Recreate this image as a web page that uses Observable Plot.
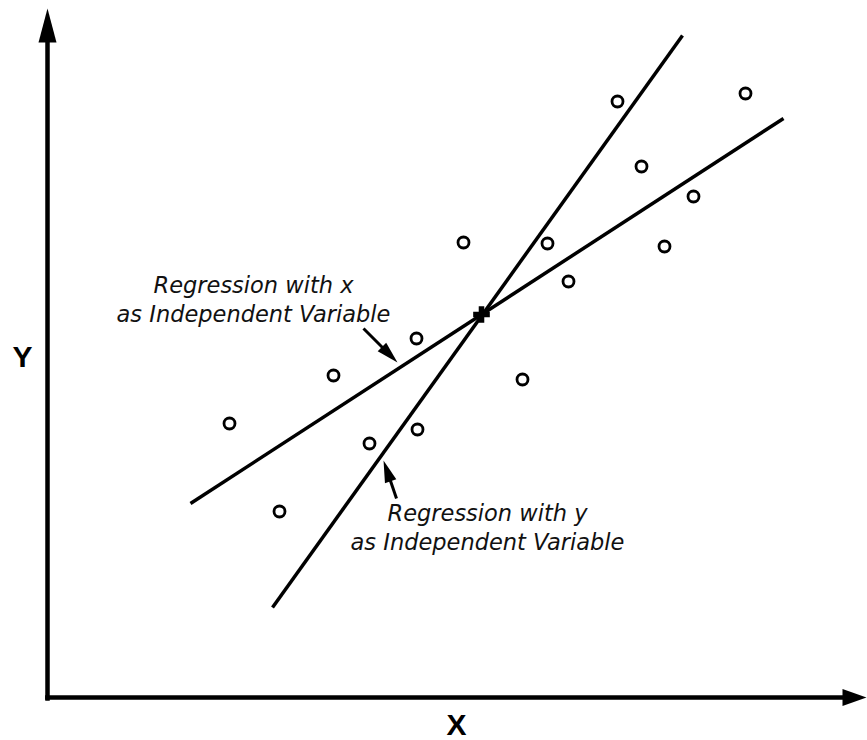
<!DOCTYPE html>
<html><head><meta charset="utf-8">
<script src="https://cdn.jsdelivr.net/npm/d3@7"></script>
<script src="https://cdn.jsdelivr.net/npm/@observablehq/plot@0.6"></script>
<style>body{margin:0;background:#fff}</style>
</head><body><div id="chart"></div>
<script>
// Observed points (data units)
const pointX = [2.275, 2.9, 3.575, 4.025, 4.625, 4.6125, 5.2, 5.9375, 6.25, 6.5125, 7.125, 7.425, 7.7125, 8.075, 8.725];
const pointY = [3.425, 2.325, 4.025, 3.175, 3.35, 4.4875, 5.6875, 3.975, 5.675, 5.2, 7.45, 6.6375, 5.6375, 6.2625, 7.55];
// Mean point (cross)
const meanX = [5.425];
const meanY = [4.7875];
// Regression line with x as independent variable (end points)
const lineXIndepX = [1.7875, 9.2];
const lineXIndepY = [2.425, 7.2375];
// Regression line with y as independent variable (end points)
const lineYIndepX = [2.8125, 7.9375];
const lineYIndepY = [1.125, 8.275];
// Annotations
const annotationText = ["Regression with x\nas Independent Variable", "Regression with y\nas Independent Variable"];
const annotationX = [2.575, 5.5];
const annotationY = [4.99, 2.14];
const arrowTailX = [3.95, 4.3625];
const arrowTailY = [4.6125, 2.4875];
const arrowTipX = [4.375, 4.2];
const arrowTipY = [4.1875, 2.9625];
// Axis titles
const axisTitle = ["X", "Y"];
const axisTitleX = [5.1125, -0.3125];
const axisTitleY = [-0.35, 4.25];

const points = pointX.map((x, i) => ({x, y: pointY[i]}));
const mean = meanX.map((x, i) => ({x, y: meanY[i]}));
const regLines = [
  {x1: lineXIndepX[0], y1: lineXIndepY[0], x2: lineXIndepX[1], y2: lineXIndepY[1]},
  {x1: lineYIndepX[0], y1: lineYIndepY[0], x2: lineYIndepX[1], y2: lineYIndepY[1]}
];
const notes = annotationText.map((t, i) => ({t, x: annotationX[i], y: annotationY[i]}));
const arrows = arrowTailX.map((x, i) => {
  const dx = arrowTipX[i] - x, dy = arrowTipY[i] - arrowTailY[i];
  const len = Math.hypot(dx, dy);
  const k = (len - 0.12) / len;
  return {x1: x, y1: arrowTailY[i], x2: x + dx * k, y2: arrowTailY[i] + dy * k,
          tx: arrowTipX[i], ty: arrowTipY[i], rot: Math.atan2(dx, dy) * 180 / Math.PI};
});
const titles = axisTitle.map((t, i) => ({t, x: axisTitleX[i], y: axisTitleY[i]}));

const chart = Plot.plot({
  width: 867,
  height: 740,
  marginLeft: 47,
  marginRight: 20,
  marginTop: 17,
  marginBottom: 43,
  x: {domain: [0, 10], axis: null},
  y: {domain: [0, 8.5], axis: null},
  style: {background: "#fff", overflow: "visible"},
  marks: [
    // axes
    Plot.link([{x1: 0, y1: -0.04, x2: 0, y2: 8.2}, {x1: -0.03, y1: 0, x2: 9.95, y2: 0}],
      {x1: "x1", y1: "y1", x2: "x2", y2: "y2", stroke: "black", strokeWidth: 4.5}),
    Plot.vector([{x: 0, y: 8.6125}], {x: "x", y: "y", length: 34, r: 9, rotate: 0, anchor: "end", shape: "spike", fill: "black", stroke: "none"}),
    Plot.vector([{x: 10.2375, y: 0}], {x: "x", y: "y", length: 24, r: 8.5, rotate: 90, anchor: "end", shape: "spike", fill: "black", stroke: "none"}),
    // regression lines
    Plot.link(regLines, {x1: "x1", y1: "y1", x2: "x2", y2: "y2", stroke: "black", strokeWidth: 3.5}),
    // points
    Plot.dot(points, {x: "x", y: "y", r: 5.5, stroke: "black", strokeWidth: 2.8, fill: "white"}),
    // mean cross
    Plot.dot(mean, {x: "x", y: "y", symbol: "cross", r: 7, fill: "black", stroke: "none"}),
    // annotation arrows
    Plot.link(arrows, {x1: "x1", y1: "y1", x2: "x2", y2: "y2", stroke: "black", strokeWidth: 3}),
    Plot.vector(arrows, {x: "tx", y: "ty", rotate: "rot", length: 22, r: 6, anchor: "end", shape: "spike", fill: "black", stroke: "none"}),
    // annotation text
    Plot.text(notes, {x: "x", y: "y", text: "t", fontFamily: "DejaVu Sans", fontStyle: "italic", fontSize: 22.5, lineHeight: 1.3, textAnchor: "middle", lineAnchor: "middle", fill: "#111"}),
    // axis titles
    Plot.text(titles, {x: "x", y: "y", text: "t", fontFamily: "Liberation Sans", fontWeight: "bold", fontSize: 30, textAnchor: "middle", fill: "black"})
  ]
});
document.getElementById("chart").appendChild(chart);
</script>
</body></html>
